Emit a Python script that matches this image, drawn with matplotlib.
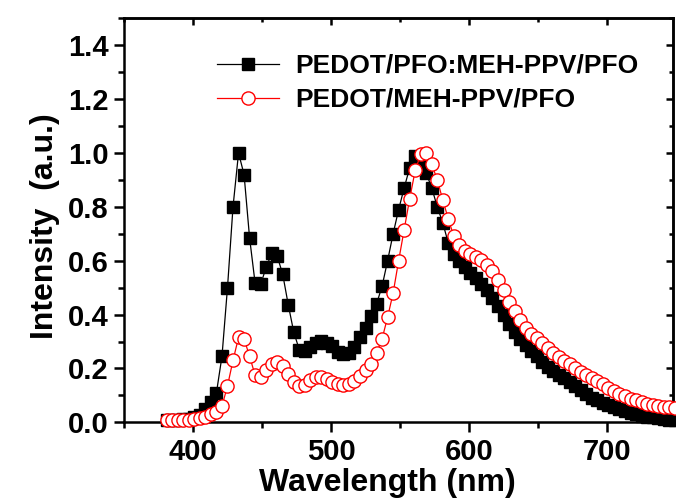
import matplotlib
matplotlib.use("Agg")
import matplotlib.pyplot as plt
from matplotlib.ticker import MultipleLocator

plt.rcParams['font.family'] = ['Liberation Sans', 'DejaVu Sans']
plt.rcParams['font.weight'] = 'bold'

# Emission wavelengths (nm)
wavelength = [381, 385, 389, 393, 397, 401, 405, 409, 413, 417,
              421, 425, 429, 433, 437, 441, 445, 449, 453, 457,
              461, 465, 469, 473, 477, 481, 485, 489, 493, 497,
              501, 505, 509, 513, 517, 521, 525, 529, 533, 537,
              541, 545, 549, 553, 557, 561, 565, 569, 573, 577,
              581, 585, 589, 593, 597, 601, 605, 609, 613, 617,
              621, 625, 629, 633, 637, 641, 645, 649, 653, 657,
              661, 665, 669, 673, 677, 681, 685, 689, 693, 697,
              701, 705, 709, 713, 717, 721, 725, 729, 733, 737,
              741, 745, 749]

# PEDOT/PFO:MEH-PPV/PFO normalised EL intensity
blend_device = [0.010, 0.010, 0.010, 0.012, 0.014, 0.018, 0.028, 0.048, 0.075, 0.110,
                0.245, 0.500, 0.800, 1.000, 0.920, 0.685, 0.517, 0.512, 0.575, 0.627,
                0.617, 0.550, 0.437, 0.335, 0.270, 0.265, 0.280, 0.293, 0.302, 0.295,
                0.283, 0.262, 0.253, 0.258, 0.280, 0.315, 0.350, 0.395, 0.440, 0.505,
                0.600, 0.700, 0.790, 0.870, 0.945, 0.990, 0.965, 0.925, 0.870, 0.800,
                0.740, 0.665, 0.625, 0.598, 0.575, 0.555, 0.537, 0.515, 0.490, 0.460,
                0.430, 0.400, 0.366, 0.337, 0.310, 0.288, 0.266, 0.245, 0.225, 0.207,
                0.190, 0.177, 0.163, 0.150, 0.135, 0.120, 0.105, 0.092, 0.081, 0.071,
                0.063, 0.055, 0.048, 0.041, 0.035, 0.030, 0.025, 0.021, 0.018, 0.015,
                0.012, 0.010, 0.008]

# PEDOT/MEH-PPV/PFO normalised EL intensity
bilayer_device = [0.010, 0.010, 0.010, 0.010, 0.010, 0.012, 0.015, 0.020, 0.030, 0.040,
                  0.060, 0.135, 0.230, 0.315, 0.310, 0.245, 0.175, 0.168, 0.196, 0.218,
                  0.224, 0.210, 0.180, 0.150, 0.136, 0.140, 0.158, 0.170, 0.170, 0.162,
                  0.150, 0.142, 0.138, 0.143, 0.155, 0.172, 0.193, 0.218, 0.256, 0.310,
                  0.390, 0.480, 0.600, 0.715, 0.830, 0.935, 0.995, 1.000, 0.958, 0.900,
                  0.825, 0.755, 0.690, 0.658, 0.635, 0.625, 0.615, 0.603, 0.585, 0.560,
                  0.530, 0.490, 0.447, 0.413, 0.380, 0.350, 0.327, 0.312, 0.293, 0.277,
                  0.258, 0.241, 0.229, 0.215, 0.200, 0.188, 0.176, 0.165, 0.154, 0.141,
                  0.128, 0.115, 0.105, 0.096, 0.088, 0.081, 0.074, 0.069, 0.065, 0.061,
                  0.058, 0.055, 0.052]

series_labels = ["PEDOT/PFO:MEH-PPV/PFO", "PEDOT/MEH-PPV/PFO"]
x_ticks = [400, 500, 600, 700]
y_ticks = [0.0, 0.2, 0.4, 0.6, 0.8, 1.0, 1.2, 1.4]

fig = plt.figure(figsize=(6.76, 5.04), dpi=100)
ax = fig.add_axes([0.1834, 0.1621, 0.8126, 0.8016])

ax.plot(wavelength, blend_device, color='black', lw=0.9, marker='s',
        markersize=9, markerfacecolor='black', markeredgecolor='black',
        label=series_labels[0], clip_on=False, zorder=3)
ax.plot(wavelength, bilayer_device, color='red', lw=0.9, marker='o',
        markersize=9.5, markerfacecolor='white', markeredgecolor='red',
        markeredgewidth=1.0, label=series_labels[1], clip_on=False, zorder=4)

ax.set_xlim(350, 748)
ax.set_ylim(0, 1.5)
ax.set_xticks(x_ticks)
ax.set_yticks(y_ticks)
ax.set_yticklabels([f"{v:.1f}" for v in y_ticks])
ax.xaxis.set_minor_locator(MultipleLocator(50))
ax.yaxis.set_minor_locator(MultipleLocator(0.1))

for sp in ax.spines.values():
    sp.set_linewidth(1.8)

ax.tick_params(which='major', direction='out', length=7, width=1.8,
               labelsize=21, pad=4)
ax.tick_params(which='minor', direction='out', length=4.5, width=1.8)

# mirrored inward ticks on the top and right edges
top = ax.secondary_xaxis('top')
top.set_xticks(x_ticks)
top.xaxis.set_minor_locator(MultipleLocator(50))
top.tick_params(which='major', direction='in', length=5, width=1.8, labeltop=False)
top.tick_params(which='minor', direction='in', length=3, width=1.8)
top.spines['top'].set_linewidth(1.8)

right = ax.secondary_yaxis('right')
right.set_yticks(y_ticks)
right.yaxis.set_minor_locator(MultipleLocator(0.1))
right.tick_params(which='major', direction='in', length=5, width=1.8, labelright=False)
right.tick_params(which='minor', direction='in', length=3, width=1.8)
right.spines['right'].set_linewidth(1.8)

ax.set_xlabel("Wavelength (nm)", fontsize=23, fontweight='bold', labelpad=2, x=0.48)
ax.set_ylabel("Intensity  (a.u.)", fontsize=23, fontweight='bold', labelpad=6, y=0.485)

leg = ax.legend(loc='upper left', bbox_to_anchor=(0.17, 0.912), frameon=False,
                fontsize=19, handlelength=2.35, handletextpad=0.6,
                labelspacing=0.38, borderpad=0, borderaxespad=0)

fig.savefig("out.png", dpi=100)
